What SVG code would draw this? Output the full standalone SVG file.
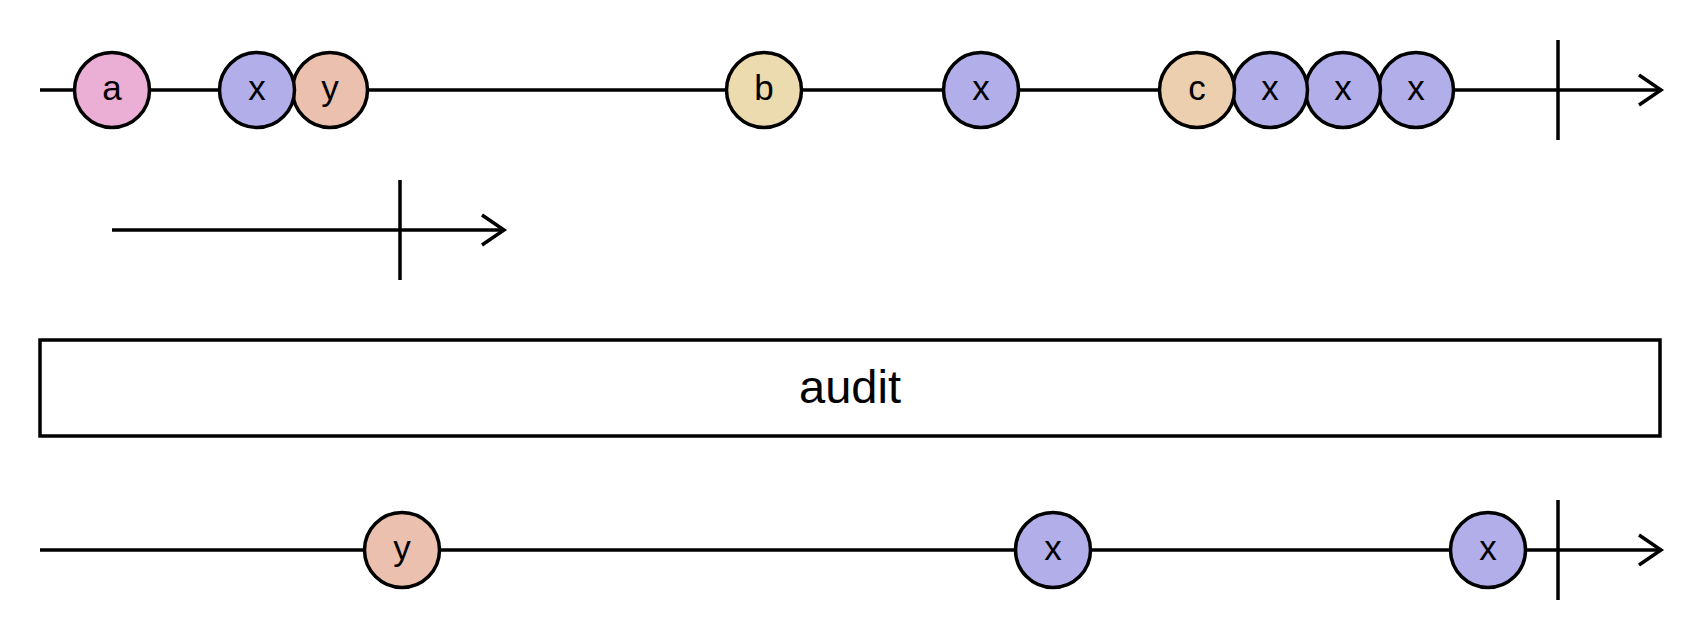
<svg xmlns="http://www.w3.org/2000/svg" width="1700" height="640" viewBox="0 0 1700 640">
<style>
.ln{stroke:#000;stroke-width:3.5;fill:none}
.m{stroke:#000;stroke-width:3.5}
.t{font-family:"Liberation Sans",Arial,sans-serif;font-size:35px;fill:#000;text-anchor:middle}
.op{font-family:"Liberation Sans",Arial,sans-serif;font-size:47px;fill:#000;text-anchor:middle}
.pa{fill:#ebaed5}.px{fill:#b1aeea}.py{fill:#ebc0ae}.pb{fill:#ecdbae}.pc{fill:#ebcfae}
</style>
<rect width="1700" height="640" fill="#fff"/>
<g id="connectors">
<line class="ln" x1="40" y1="90" x2="1661" y2="90"/>
<polyline class="ln" points="1639,75 1661,90 1639,105"/>
<line class="ln" x1="1558" y1="40" x2="1558" y2="140"/>
<line class="ln" x1="112" y1="230" x2="504" y2="230"/>
<polyline class="ln" points="482,215 504,230 482,245"/>
<line class="ln" x1="400" y1="180" x2="400" y2="280"/>
<line class="ln" x1="40" y1="550" x2="1661" y2="550"/>
<polyline class="ln" points="1639,535 1661,550 1639,565"/>
<line class="ln" x1="1558" y1="500" x2="1558" y2="600"/>
</g>
<g id="top-x4"><circle class="m px" cx="1416" cy="90" r="37.5"/><text class="t" x="1416" y="100">x</text></g>
<g id="top-x3"><circle class="m px" cx="1343" cy="90" r="37.5"/><text class="t" x="1343" y="100">x</text></g>
<g id="top-x2"><circle class="m px" cx="1270" cy="90" r="37.5"/><text class="t" x="1270" y="100">x</text></g>
<g id="top-c"><circle class="m pc" cx="1197" cy="90" r="37.5"/><text class="t" x="1197" y="100">c</text></g>
<g id="top-x1b"><circle class="m px" cx="981" cy="90" r="37.5"/><text class="t" x="981" y="100">x</text></g>
<g id="top-b"><circle class="m pb" cx="764" cy="90" r="37.5"/><text class="t" x="764" y="100">b</text></g>
<g id="top-y"><circle class="m py" cx="330" cy="90" r="37.5"/><text class="t" x="330" y="100">y</text></g>
<g id="top-x1"><circle class="m px" cx="257" cy="90" r="37.5"/><text class="t" x="257" y="100">x</text></g>
<g id="top-a"><circle class="m pa" cx="112" cy="90" r="37.5"/><text class="t" x="112" y="100">a</text></g>
<g id="operator"><rect x="40" y="340" width="1620" height="96" fill="#fff" stroke="#000" stroke-width="3.5"/><text class="op" x="850" y="403">audit</text></g>
<g id="out-x2"><circle class="m px" cx="1488" cy="550" r="37.5"/><text class="t" x="1488" y="560">x</text></g>
<g id="out-x1"><circle class="m px" cx="1053" cy="550" r="37.5"/><text class="t" x="1053" y="560">x</text></g>
<g id="out-y"><circle class="m py" cx="402" cy="550" r="37.5"/><text class="t" x="402" y="560">y</text></g>
</svg>
